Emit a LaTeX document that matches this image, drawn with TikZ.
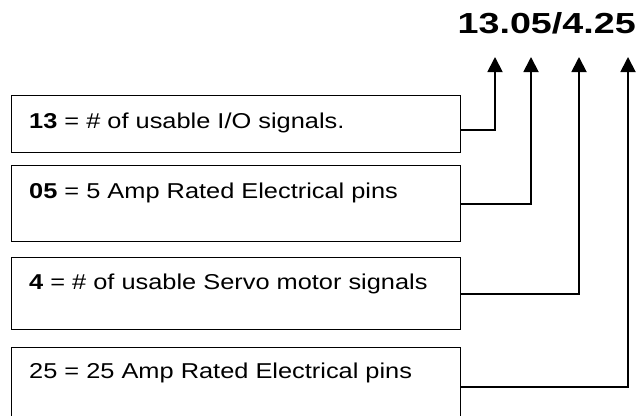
\documentclass[tikz,border=0pt]{standalone}
\usepackage{fontspec}
\setmainfont{Liberation Sans}
\usetikzlibrary{arrows.meta}
\tikzset{
  box/.style={draw=black, line width=1.3pt, anchor=north west, inner sep=0pt, minimum width=449pt},
  lbl/.style={anchor=base west, inner sep=0pt, font=\fontsize{21.5}{25}\selectfont},
  conn/.style={draw=black, line width=1.8pt, -{Triangle[length=15pt,width=15pt]}},
  ttl/.style={anchor=base east, inner sep=0pt, font=\fontsize{29}{34}\selectfont\bfseries}
}
\newcommand{\sx}[1]{\scalebox{1.18}[1]{#1}}
\begin{document}
\begin{tikzpicture}[x=1pt,y=-1pt]
\useasboundingbox (0,0) rectangle (636,415);
\clip (0,0) rectangle (636,415);
% title
\node[ttl] (title) at (636,33) {\scalebox{1.3}[1]{13.05/4.25}};
\coordinate (a1) at (495,57);
\coordinate (a2) at (531,57);
\coordinate (a3) at (579,57);
\coordinate (a4) at (628,57);
% boxes
\node[box, minimum height=57pt] (b1) at (11,95) {};
\node[box, minimum height=76pt] (b2) at (11,165) {};
\node[box, minimum height=72pt] (b3) at (11,257) {};
\node[box, minimum height=74pt] (b4) at (11,347) {};
% labels
\node[lbl] (t1) at (29,128) {\sx{\textbf{13} = \# of usable I/O signals.}};
\node[lbl] (t2) at (29,198) {\sx{\textbf{05} = 5 Amp Rated Electrical pins}};
\node[lbl] (t3) at (29,289) {\sx{\textbf{4} = \# of usable Servo motor signals}};
\node[lbl] (t4) at (29,378) {\sx{25 = 25 Amp Rated Electrical pins}};
% connectors
\draw[conn] ([yshift=-5.5pt]b1.east) -| (a1);
\draw[conn] (b2.east) -| (a2);
\draw[conn] (b3.east) -| (a3);
\draw[conn] ([yshift=-2pt]b4.east) -| (a4);
\end{tikzpicture}
\end{document}
